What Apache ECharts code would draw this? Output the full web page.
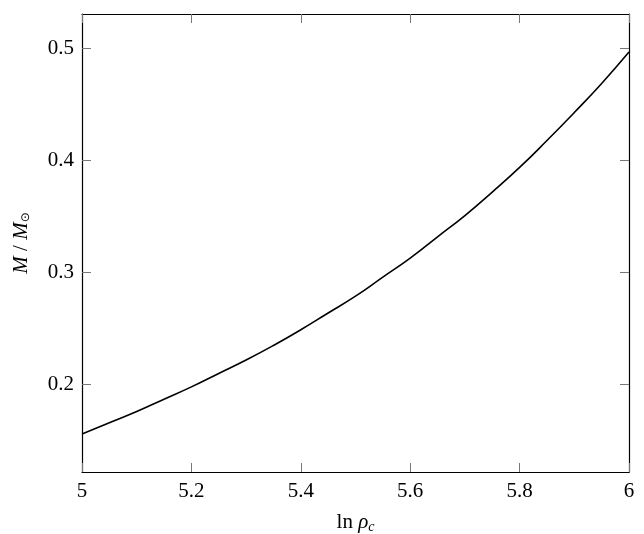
<!DOCTYPE html>
<html>
<head>
<meta charset="utf-8">
<script src="https://cdn.jsdelivr.net/npm/echarts@6/dist/echarts.min.js"></script>
<style>
  html, body { margin: 0; padding: 0; background: #fff; }
  #chart { width: 644px; height: 534px; }
</style>
</head>
<body>
<div id="chart"></div>
<script>
// ln(rho_c) values and M/M_sun
var lnRho = [5.0, 5.05, 5.1, 5.15, 5.2, 5.25, 5.3, 5.35, 5.4, 5.45, 5.5,
             5.55, 5.6, 5.65, 5.7, 5.75, 5.8, 5.85, 5.9, 5.95, 6.0];
var mass = [0.156, 0.166, 0.176, 0.187, 0.198, 0.210, 0.222, 0.235, 0.249, 0.264, 0.279,
            0.296, 0.313, 0.332, 0.351, 0.372, 0.394, 0.418, 0.443, 0.469, 0.497];
var yTicks = [0.2, 0.3, 0.4, 0.5];

var FONT = "Liberation Serif";
var chart = echarts.init(document.getElementById("chart"));

var pts = [];
for (var i = 0; i < lnRho.length; i++) {
  pts.push([lnRho[i], mass[i]]);
}

var tickStyle = { show: true, inside: true, length: 9, lineStyle: { color: "#777", width: 1 } };
var frame = { show: true, onZero: false, lineStyle: { color: "#000", width: 1.2 } };

var option = {
  animation: false,
  grid: { left: 82, right: 15, top: 14, bottom: 62, outerBoundsMode: "none", containLabel: false },
  xAxis: [
    {
      type: "value",
      min: 5,
      max: 6,
      interval: 0.2,
      axisLine: frame,
      axisTick: tickStyle,
      splitLine: { show: false },
      axisLabel: {
        margin: 9,
        fontFamily: FONT,
        fontSize: 21,
        color: "#000",
        formatter: function (v) { return +v.toFixed(1) + ""; },
      },
      name: "{r|ln }{i|ρ}{s|c}",
      nameLocation: "middle",
      nameGap: 38,
      nameTextStyle: {
        rich: {
          r: { fontFamily: FONT, fontSize: 21, color: "#000" },
          i: { fontFamily: FONT, fontStyle: "italic", fontSize: 21, color: "#000" },
          s: { fontFamily: FONT, fontStyle: "italic", fontSize: 14, color: "#000", padding: [10, 0, 0, 0] },
        },
      },
    },
    {
      type: "value",
      position: "top",
      min: 5,
      max: 6,
      interval: 0.2,
      axisLine: frame,
      axisTick: tickStyle,
      axisLabel: { show: false },
      splitLine: { show: false },
    },
  ],
  yAxis: [
    {
      type: "value",
      min: 0.122,
      max: 0.531,
      axisLine: frame,
      axisTick: Object.assign({ customValues: yTicks }, tickStyle),
      splitLine: { show: false },
      axisLabel: {
        customValues: yTicks,
        margin: 8,
        fontFamily: FONT,
        fontSize: 21,
        color: "#000",
        formatter: function (v) { return v.toFixed(1); },
      },
      name: "{i|M}{r| / }{i|M}{s|⊙}",
      nameLocation: "middle",
      nameGap: 50,
      nameTextStyle: {
        rich: {
          r: { fontFamily: FONT, fontSize: 21, color: "#000" },
          i: { fontFamily: FONT, fontStyle: "italic", fontSize: 21, color: "#000" },
          s: { fontFamily: "DejaVu Sans", fontSize: 12, color: "#000", padding: [10, 0, 0, 0] },
        },
      },
    },
    {
      type: "value",
      position: "right",
      min: 0.122,
      max: 0.531,
      axisLine: frame,
      axisTick: Object.assign({ customValues: yTicks }, tickStyle),
      axisLabel: { show: false, customValues: yTicks },
      splitLine: { show: false },
    },
  ],
  series: [
    {
      type: "line",
      data: pts,
      smooth: true,
      showSymbol: false,
      lineStyle: { color: "#000", width: 1.6 },
    },
  ],
};
chart.setOption(option);
</script>
</body>
</html>
